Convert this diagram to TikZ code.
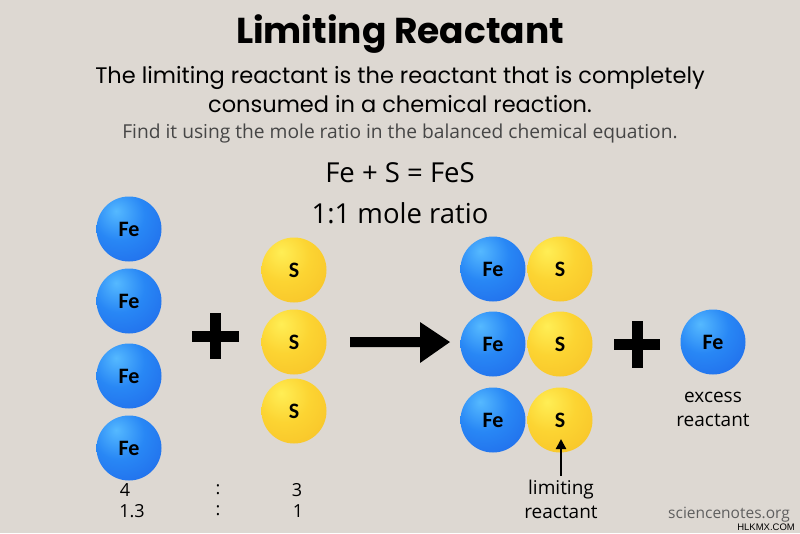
\documentclass[tikz,border=0pt]{standalone}
\usepackage{fontspec}
\usetikzlibrary{arrows.meta}
\setmainfont{Open Sans}
\newfontfamily\titlefont{Poppins}[UprightFont=*, BoldFont=* Bold]
\newfontfamily\ballfont{Carlito}
\newfontfamily\wmfont{Liberation Sans}
\definecolor{bgc}{RGB}{221,216,210}
\definecolor{bl1}{RGB}{85,185,255}
\definecolor{bl2}{RGB}{40,135,245}
\definecolor{bl3}{RGB}{28,92,228}
\definecolor{ye1}{RGB}{255,238,85}
\definecolor{ye2}{RGB}{252,212,50}
\definecolor{ye3}{RGB}{245,185,35}
\definecolor{subgray}{RGB}{70,70,70}
\definecolor{wmgray}{RGB}{95,95,95}
\pgfdeclareradialshading{blueball}{\pgfpoint{-10bp}{14bp}}{color(0bp)=(bl1); color(20bp)=(bl2); color(55bp)=(bl3); color(100bp)=(bl3)}
\pgfdeclareradialshading{yellowball}{\pgfpoint{-10bp}{14bp}}{color(0bp)=(ye1); color(20bp)=(ye2); color(55bp)=(ye3); color(100bp)=(ye3)}
\tikzset{
  feball/.style={circle, minimum size=65pt, inner sep=0pt, shading=blueball, font={\ballfont\bfseries\fontsize{22}{22}\selectfont}},
  sball/.style={circle, minimum size=65pt, inner sep=0pt, shading=yellowball, font={\ballfont\bfseries\fontsize{22}{22}\selectfont}},
  plusbar/.style={fill=black},
  body/.style={font=\fontsize{18}{20}\selectfont},
  eqn/.style={font=\fontsize{27.5}{30}\selectfont},
  lbl/.style={font=\fontsize{19}{24}\selectfont, align=center},
}
\begin{document}
\begin{tikzpicture}[x=1pt,y=-1pt]
\fill[bgc] (0,0) rectangle (800,533);
\useasboundingbox (0,0) rectangle (800,533);
% titles
\node (title) at (400,34) {\titlefont\bfseries\fontsize{36}{40}\selectfont Limiting Reactant};
\node (sub1) at (400,78) {\titlefont\fontsize{22.5}{26}\selectfont The limiting reactant is the reactant that is completely};
\node (sub2) at (400,104) {\titlefont\fontsize{22.5}{26}\selectfont consumed in a chemical reaction.};
\node[text=subgray] (find) at (400,134) {\fontsize{19.2}{21}\selectfont Find it using the mole ratio in the balanced chemical equation.};
\node[eqn] (eq) at (400,173) {Fe + S = FeS};
\node[eqn] (ratio) at (400,213) {1:1 mole ratio};
% reactant Fe column
\node[feball] (fe1) at (129,229) {Fe};
\node[feball] (fe2) at (129,301) {Fe};
\node[feball] (fe3) at (129,376) {Fe};
\node[feball] (fe4) at (129,448) {Fe};
% plus 1
\fill[plusbar] (192,331) rectangle (239,342);
\fill[plusbar] (210,313) rectangle (221,359);
% S column
\node[sball] (s1) at (294,270) {S};
\node[sball] (s2) at (294,342) {S};
\node[sball] (s3) at (294,411) {S};
% reaction arrow
\fill (350,337) -- (420,337) -- (420,322) -- (450,342) -- (420,363) -- (420,347) -- (350,347) -- cycle;
% products
\node[feball] (pfe1) at (493,269) {Fe};
\node[sball] (ps1) at (560,269) {S};
\node[feball] (pfe2) at (493,344) {Fe};
\node[sball] (ps2) at (560,344) {S};
\node[feball] (pfe3) at (493,420) {Fe};
\node[sball] (ps3) at (560,420) {S};
% plus 2
\fill[plusbar] (614,339) rectangle (660,350);
\fill[plusbar] (632,321) rectangle (643,368);
% excess Fe
\node[feball] (xfe) at (713,342) {Fe};
\node[lbl] (excess) at (713,409) {excess\\reactant};
% limiting
\node[lbl] (limit) at (561,499) {limiting\\reactant};
\coordinate (limtip) at (561,439);
\draw[line width=2.2pt, -{Triangle[length=10pt,width=10pt]}] (limit.north) -- (limtip);
% ratios
\node[body] (n4) at (125,490) {4};
\node[body] (c1) at (218,490) {:};
\node[body] (n3) at (297,490) {3};
\node[body] (n13) at (132,511) {1.3};
\node[body] (c2) at (218,511) {:};
\node[body] (n1) at (298,511) {1};
% watermark
\node[text=wmgray, anchor=east, inner sep=0pt] (site) at (790,515) {\fontsize{15.5}{18}\selectfont sciencenotes.org};
\node[anchor=east, inner sep=0pt] (hl) at (795,527) {\wmfont\fontsize{9.5}{10}\selectfont HLKMX.COM};
\end{tikzpicture}
\end{document}
